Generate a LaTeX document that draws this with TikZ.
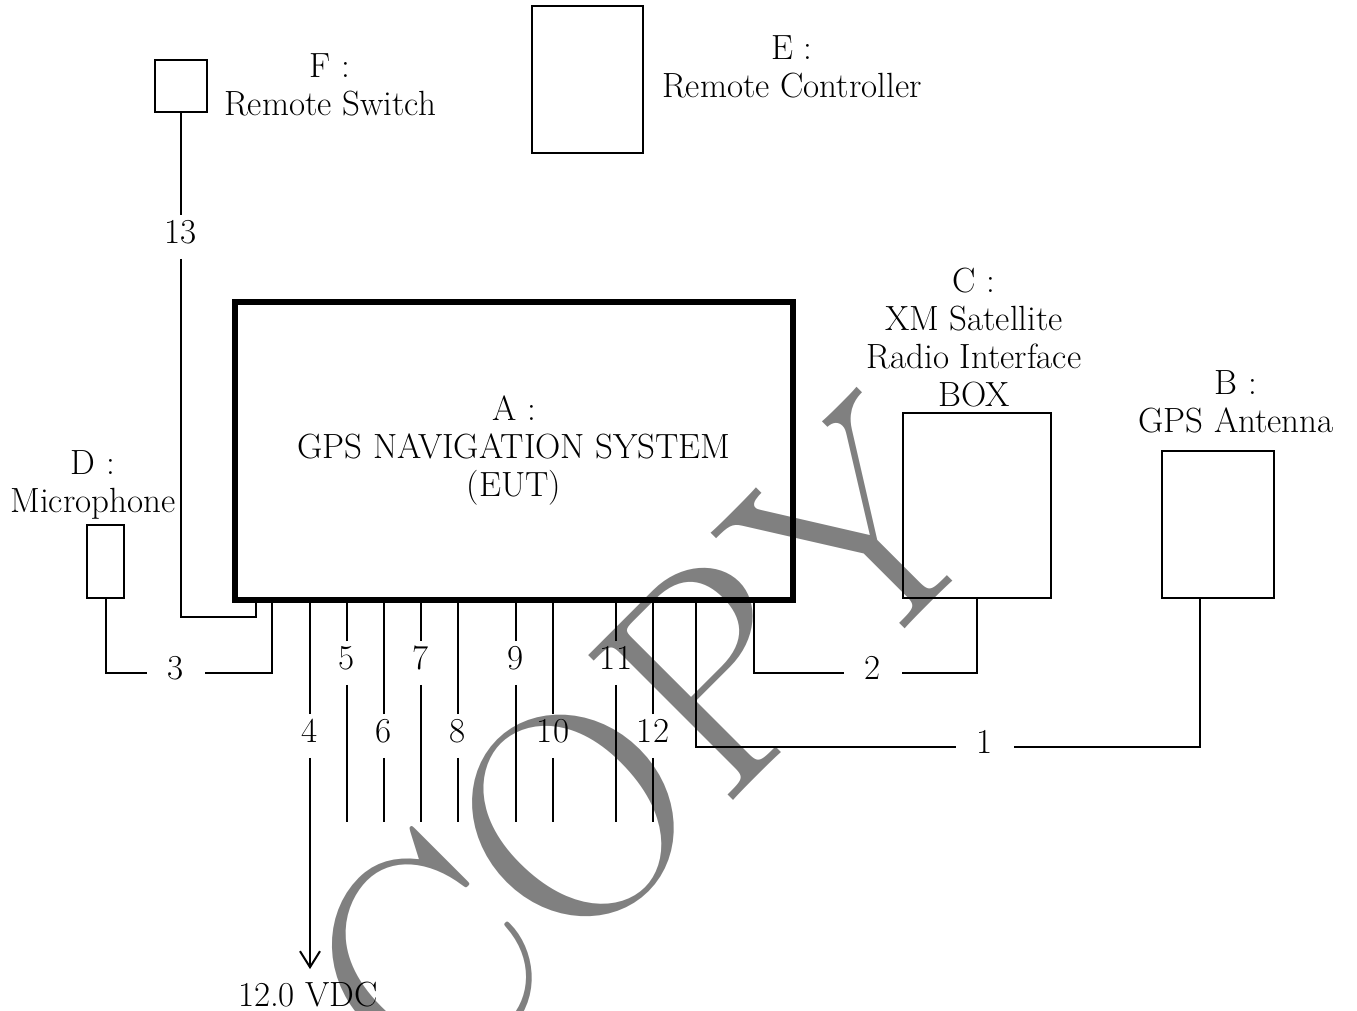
\documentclass[tikz,border=0pt]{standalone}
\usetikzlibrary{arrows.meta}
\definecolor{wmgray}{RGB}{128,128,128}
\begin{document}
\begin{tikzpicture}[x=0.5pt,y=-0.5pt,
  every node/.style={font=\fontsize{17.5}{19}\selectfont},
  thin line/.style={line width=1pt},
  devbox/.style={draw, line width=1pt, inner sep=0pt},
  mainbox/.style={draw, line width=2.6pt, inner sep=0pt, align=center},
  txt/.style={align=center, inner sep=0pt},
  vlab/.style={inner xsep=2pt, inner ysep=7.5pt, text height=0.65em, text depth=0pt},
  hlab/.style={inner xsep=10.5pt, inner ysep=2pt, text height=0.65em, text depth=0pt}
]
\useasboundingbox (0,0) rectangle (1357,1011);

% watermark
\node[rotate=45, text=wmgray, inner sep=0pt, font=\fontsize{150}{150}\selectfont] (wm) at (643,746) {COPY};

% boxes
\node[mainbox, minimum width=279pt, minimum height=149pt] (A) at (514,451)
  {A :\\GPS NAVIGATION SYSTEM\\(EUT)};
\node[devbox, minimum width=18.5pt, minimum height=36.5pt] (D) at (105.5,561.5) {};
\node[devbox, minimum width=26pt, minimum height=26pt] (F) at (181,86) {};
\node[devbox, minimum width=55.5pt, minimum height=73.5pt] (E) at (587.5,79.5) {};
\node[devbox, minimum width=74pt, minimum height=92.5pt] (C) at (977,505.5) {};
\node[devbox, minimum width=56pt, minimum height=73.5pt] (B) at (1218,524.5) {};

% labels
\node[txt] (Dl) at (93,485) {D :\\Microphone};
\node[txt] (Fl) at (330,85) {F :\\Remote Switch};
\node[txt] (El) at (792,67) {E :\\Remote Controller};
\node[txt] (Cl) at (974,338) {C :\\XM Satellite\\Radio Interface\\BOX};
\node[txt] (Bl) at (1236,402) {B :\\GPS Antenna};

% cable labels
\node[vlab] (n13) at (181,237) {13};
\node[hlab] (n3) at (176,673) {3};
\node[vlab] (n4) at (310,736) {4};
\node[vlab] (n5) at (347,663) {5};
\node[vlab] (n6) at (384,736) {6};
\node[vlab] (n7) at (421,663) {7};
\node[vlab] (n8) at (458,736) {8};
\node[vlab] (n9) at (516,663) {9};
\node[vlab] (n10) at (553,736) {10};
\node[vlab] (n11) at (616,663) {11};
\node[vlab] (n12) at (653,736) {12};
\node[hlab] (n2) at (873,673) {2};
\node[hlab] (n1) at (985,747) {1};
\node[inner xsep=0pt, inner ysep=6.5pt] (vdc) at (308,995) {12.0 VDC};

% helper coordinates
\coordinate (c13) at (256,617);
\coordinate (c3) at (272,673);
\coordinate (c2) at (754,673);
\coordinate (c1) at (696,747);
\coordinate (e5) at (347,822);
\coordinate (e6) at (384,822);
\coordinate (e7) at (421,822);
\coordinate (e8) at (458,822);
\coordinate (e9) at (516,822);
\coordinate (e10) at (553,822);
\coordinate (e11) at (616,822);
\coordinate (e12) at (653,822);

% cable 13
\draw[thin line] (F.south) -- (n13.north);
\draw[thin line] (n13.south) |- (c13) -- (c13 |- A.south);
% cable 3
\draw[thin line] (D.south) |- (n3.west);
\draw[thin line] (n3.east) -- (c3) -- (c3 |- A.south);
% cable 4
\draw[thin line] (n4.north) -- (n4.north |- A.south);
\draw[thin line, -{Straight Barb[length=8pt,width=10pt]}] (n4.south) -- (n4.south |- vdc.north);
% cables 5-12
\foreach \k in {5,6,7,8,9,10,11,12}{
  \draw[thin line] (n\k.north) -- (n\k.north |- A.south);
  \draw[thin line] (n\k.south) -- (e\k);
}
% cable 2
\draw[thin line] (n2.west) -- (c2) -- (c2 |- A.south);
\draw[thin line] (n2.east) -| (C.south);
% cable 1
\draw[thin line] (n1.west) -- (c1) -- (c1 |- A.south);
\draw[thin line] (n1.east) -| ([xshift=-9pt]B.south);
\end{tikzpicture}
\end{document}
